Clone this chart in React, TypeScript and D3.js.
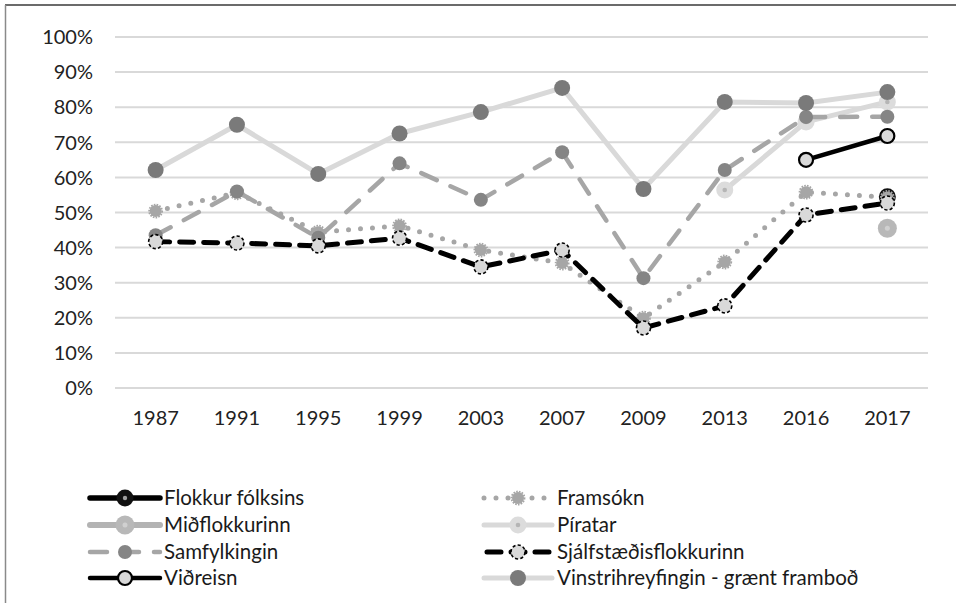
import React from "react";
import * as d3 from "d3";

const years = ["1987", "1991", "1995", "1999", "2003", "2007", "2009", "2013", "2016", "2017"];
const yTicks = [0, 10, 20, 30, 40, 50, 60, 70, 80, 90, 100];

const flokkurFolksins = [null, null, null, null, null, null, null, null, null, 54.5];
const framsokn = [50.4, 55.6, 44.4, 46.2, 39.3, 35.6, 19.9, 35.9, 55.8, 54.3];
const midflokkurinn = [null, null, null, null, null, null, null, null, null, 45.5];
const piratar = [null, null, null, null, null, null, null, 56.4, 75.8, 81.5];
const samfylkingin = [43.5, 56.0, 42.8, 64.0, 53.6, 67.2, 31.3, 62.1, 77.2, 77.3];
const sjalfstaedis = [41.7, 41.3, 40.5, 42.7, 34.5, 39.3, 17.1, 23.4, 49.3, 52.7];
const vidreisn = [null, null, null, null, null, null, null, null, 65.0, 71.8];
const vinstri = [62.1, 75.0, 61.0, 72.5, 78.6, 85.5, 56.7, 81.5, 81.2, 84.3];

type S = {
  name: string;
  values: (number | null)[];
  stroke: string;
  width: number;
  dash?: string;
  cap?: string;
  marker: (cx: number, cy: number, k: string) => React.ReactNode;
};

const series: S[] = [
  {
    name: "Flokkur fólksins",
    values: flokkurFolksins,
    stroke: "#000",
    width: 5.5,
    marker: (cx, cy, k) => (
      <g key={k}>
        <circle cx={cx} cy={cy} r={8.5} fill="#111" />
        <circle cx={cx} cy={cy} r={2.2} fill="#a0a0a0" />
      </g>
    ),
  },
  {
    name: "Framsókn",
    values: framsokn,
    stroke: "#a6a6a6",
    width: 5,
    dash: "0 12",
    cap: "round",
    marker: (cx, cy, k) => (
      <g key={k}>
        <circle cx={cx} cy={cy} r={6} fill="#a6a6a6" />
        <circle cx={cx} cy={cy} r={6.5} fill="none" stroke="#a6a6a6" strokeWidth={1.8} strokeDasharray="1.6 1.2" />
      </g>
    ),
  },
  {
    name: "Miðflokkurinn",
    values: midflokkurinn,
    stroke: "#b3b3b3",
    width: 6,
    marker: (cx, cy, k) => (
      <g key={k}>
        <circle cx={cx} cy={cy} r={9.5} fill="#b8b8b8" />
        <circle cx={cx} cy={cy} r={2.5} fill="#d0d0d0" />
      </g>
    ),
  },
  {
    name: "Píratar",
    values: piratar,
    stroke: "#d9d9d9",
    width: 5,
    marker: (cx, cy, k) => (
      <g key={k}>
        <circle cx={cx} cy={cy} r={8.5} fill="#dcdcdc" />
        <circle cx={cx} cy={cy} r={2.3} fill="#b5b5b5" />
      </g>
    ),
  },
  {
    name: "Samfylkingin",
    values: samfylkingin,
    stroke: "#a6a6a6",
    width: 4.5,
    dash: "17 15",
    cap: "round",
    marker: (cx, cy, k) => <circle key={k} cx={cx} cy={cy} r={7} fill="#858585" />,
  },
  {
    name: "Sjálfstæðisflokkurinn",
    values: sjalfstaedis,
    stroke: "#000",
    width: 5,
    dash: "14 10",
    cap: "round",
    marker: (cx, cy, k) => (
      <g key={k}>
        <circle cx={cx} cy={cy} r={7} fill="#d9d9d9" />
        <circle cx={cx} cy={cy} r={7} fill="none" stroke="#000" strokeWidth={1.6} strokeDasharray="3.2 2.2" />
      </g>
    ),
  },
  {
    name: "Viðreisn",
    values: vidreisn,
    stroke: "#000",
    width: 4.5,
    marker: (cx, cy, k) => (
      <circle key={k} cx={cx} cy={cy} r={7} fill="#d9d9d9" stroke="#000" strokeWidth={2.2} />
    ),
  },
  {
    name: "Vinstrihreyfingin - grænt framboð",
    values: vinstri,
    stroke: "#d9d9d9",
    width: 5,
    marker: (cx, cy, k) => <circle key={k} cx={cx} cy={cy} r={8} fill="#7a7a7a" />,
  },
];

const W = 956;
const H = 603;
const FONT = "Lato, 'Noto Sans', sans-serif";

export default function App() {
  const x = d3.scalePoint<string>().domain(years).range([115, 928]).padding(0.5);
  const y = d3.scaleLinear().domain([0, 100]).range([388, 37]);

  const line = d3
    .line<number | null>()
    .defined((d) => d != null)
    .x((_, i) => x(years[i]) as number)
    .y((d) => y(d as number));

  const legendRows = [498, 525, 552, 578];
  const legendCols = [
    { x0: 90, x1: 160, tx: 164 },
    { x0: 484, x1: 552, tx: 557 },
  ];

  return (
    <div style={{ position: "absolute", left: 0, top: 0 }}>
      <svg width={W} height={H} style={{ display: "block" }}>
        <rect width={W} height={H} fill="#fff" />
        <line x1={5} y1={5} x2={W} y2={5} stroke="#3a3a3a" strokeWidth={1.5} />
        <line x1={5.5} y1={5} x2={5.5} y2={H} stroke="#8a8a8a" strokeWidth={1.5} />

        {yTicks.map((t) => (
          <g key={t}>
            <line x1={115} x2={928} y1={y(t)} y2={y(t)} stroke="#d9d9d9" strokeWidth={2} />
            <text
              x={93}
              y={y(t)}
              dy="0.36em"
              textAnchor="end"
              fontFamily={FONT}
              fontSize={20}
              fill="#222"
            >
              {t}%
            </text>
          </g>
        ))}

        {years.map((yr) => (
          <text
            key={yr}
            x={x(yr)}
            y={418}
            dy="0.36em"
            textAnchor="middle"
            fontFamily={FONT}
            fontSize={20}
            fill="#222"
          >
            {yr}
          </text>
        ))}

        {series.map((s) => (
          <g key={s.name}>
            <path
              d={line(s.values) || ""}
              fill="none"
              stroke={s.stroke}
              strokeWidth={s.width}
              strokeDasharray={s.dash}
              strokeLinecap={(s.cap as any) || "butt"}
              strokeLinejoin="round"
            />
            {s.values.map((v, i) =>
              v == null ? null : s.marker(x(years[i]) as number, y(v), s.name + i)
            )}
          </g>
        ))}

        {series.map((s, i) => {
          const col = legendCols[i % 2];
          const ry = legendRows[Math.floor(i / 2)];
          const cx = (col.x0 + col.x1) / 2;
          return (
            <g key={"lg" + s.name}>
              <line
                x1={col.x0}
                x2={col.x1}
                y1={ry}
                y2={ry}
                stroke={s.stroke}
                strokeWidth={s.width}
                strokeDasharray={s.dash}
                strokeDashoffset={s.dash === "14 10" ? -3 : 0}
                strokeLinecap={(s.cap as any) || "round"}
              />
              {s.marker(cx, ry, "lgm" + i)}
              <text
                x={col.tx}
                y={ry}
                dy="0.36em"
                fontFamily={FONT}
                fontSize={20.5}
                fill="#1a1a1a"
              >
                {s.name}
              </text>
            </g>
          );
        })}
      </svg>
    </div>
  );
}
